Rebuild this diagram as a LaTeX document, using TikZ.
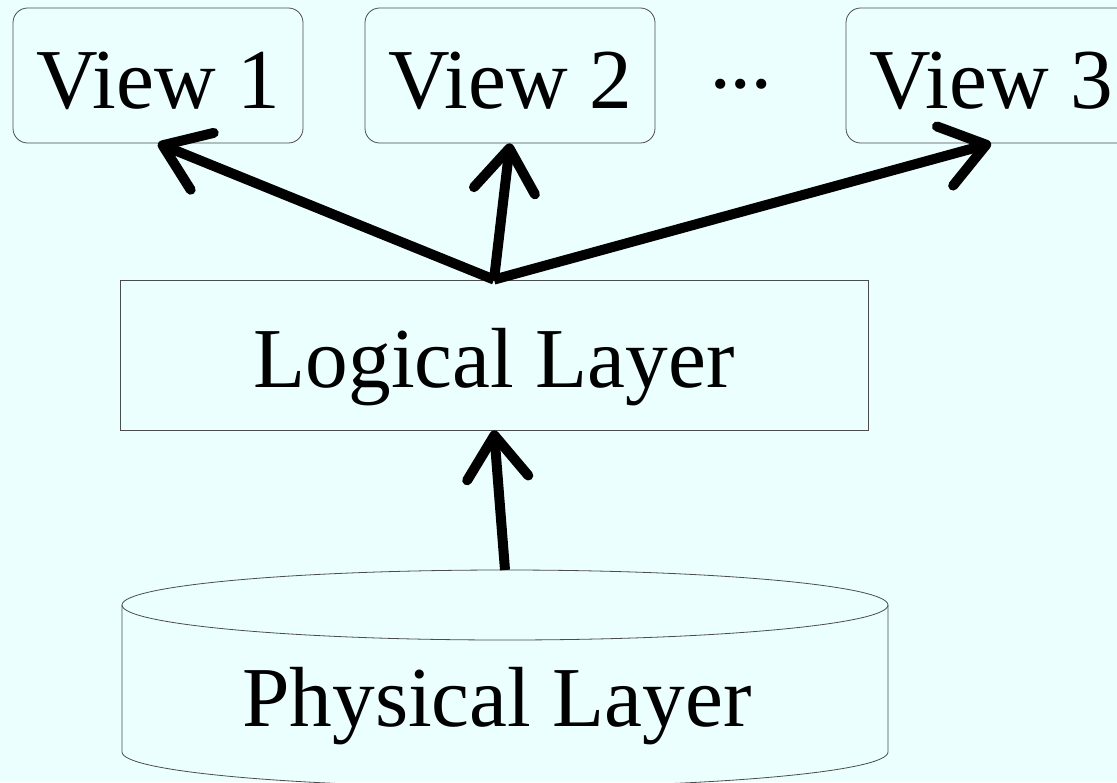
\documentclass[tikz,border=0pt]{standalone}
\usepackage{fontspec}
\setmainfont{Liberation Serif}
\usetikzlibrary{arrows.meta}
\definecolor{bgcyan}{RGB}{235,255,255}
\begin{document}
\begin{tikzpicture} [x=0.75pt,y=-0.75pt]
    \tikzset{big/.style = {font=\fontsize{64}{72}\selectfont,text height=49pt,text depth=0pt}}
    \tikzset{view/.style = {big,shape=rectangle,rounded corners=11pt,draw=black!70,line width=0.6pt,minimum width=217.5pt,minimum height=101.25pt}}
    \tikzset{layer/.style = {big,shape=rectangle,draw=black!70,line width=0.6pt,minimum width=561pt,minimum height=112.5pt}}
    \tikzset{drum/.style = {draw=black!70,line width=0.6pt}}
    \tikzset{flow/.style = {line width=7.5pt,-{Straight Barb[length=32pt,width=46pt,round]}}}
    \fill[bgcyan] (0,0) rectangle (1117,782);
    \useasboundingbox (0,0) rectangle (1117,782);
    % views on top
    \node[view] (v1) at (158,75.5) {View 1};
    \node[view] (v2) at (510,75.5) {View 2};
    \node[big] (dots) at (741,80) {·\kern-6pt·\kern-6pt·};
    \node[view] (v3) at (991,75.5) {View 3};
    % logical layer in the middle
    \node[layer] (logic) at (494,355) {Logical Layer};
    % physical layer as a drum
    \draw[drum] (122,605) -- (122,752) arc[start angle=180,end angle=360,x radius=287.25pt,y radius=26.25pt] -- (888,605);
    \draw[drum] (505,605) ellipse[x radius=287.25pt,y radius=26.25pt];
    \node[big] (phys) at (497,694) {Physical Layer};
    \coordinate (drumtop) at (505,570);
    % arrows going up
    \draw[flow] (drumtop) -- (logic.south);
    \draw[flow] (logic.north) -- (v1.south);
    \draw[flow] (logic.north) -- (v2.south);
    \draw[flow] (logic.north) -- (v3.south);
\end{tikzpicture}
\end{document}
